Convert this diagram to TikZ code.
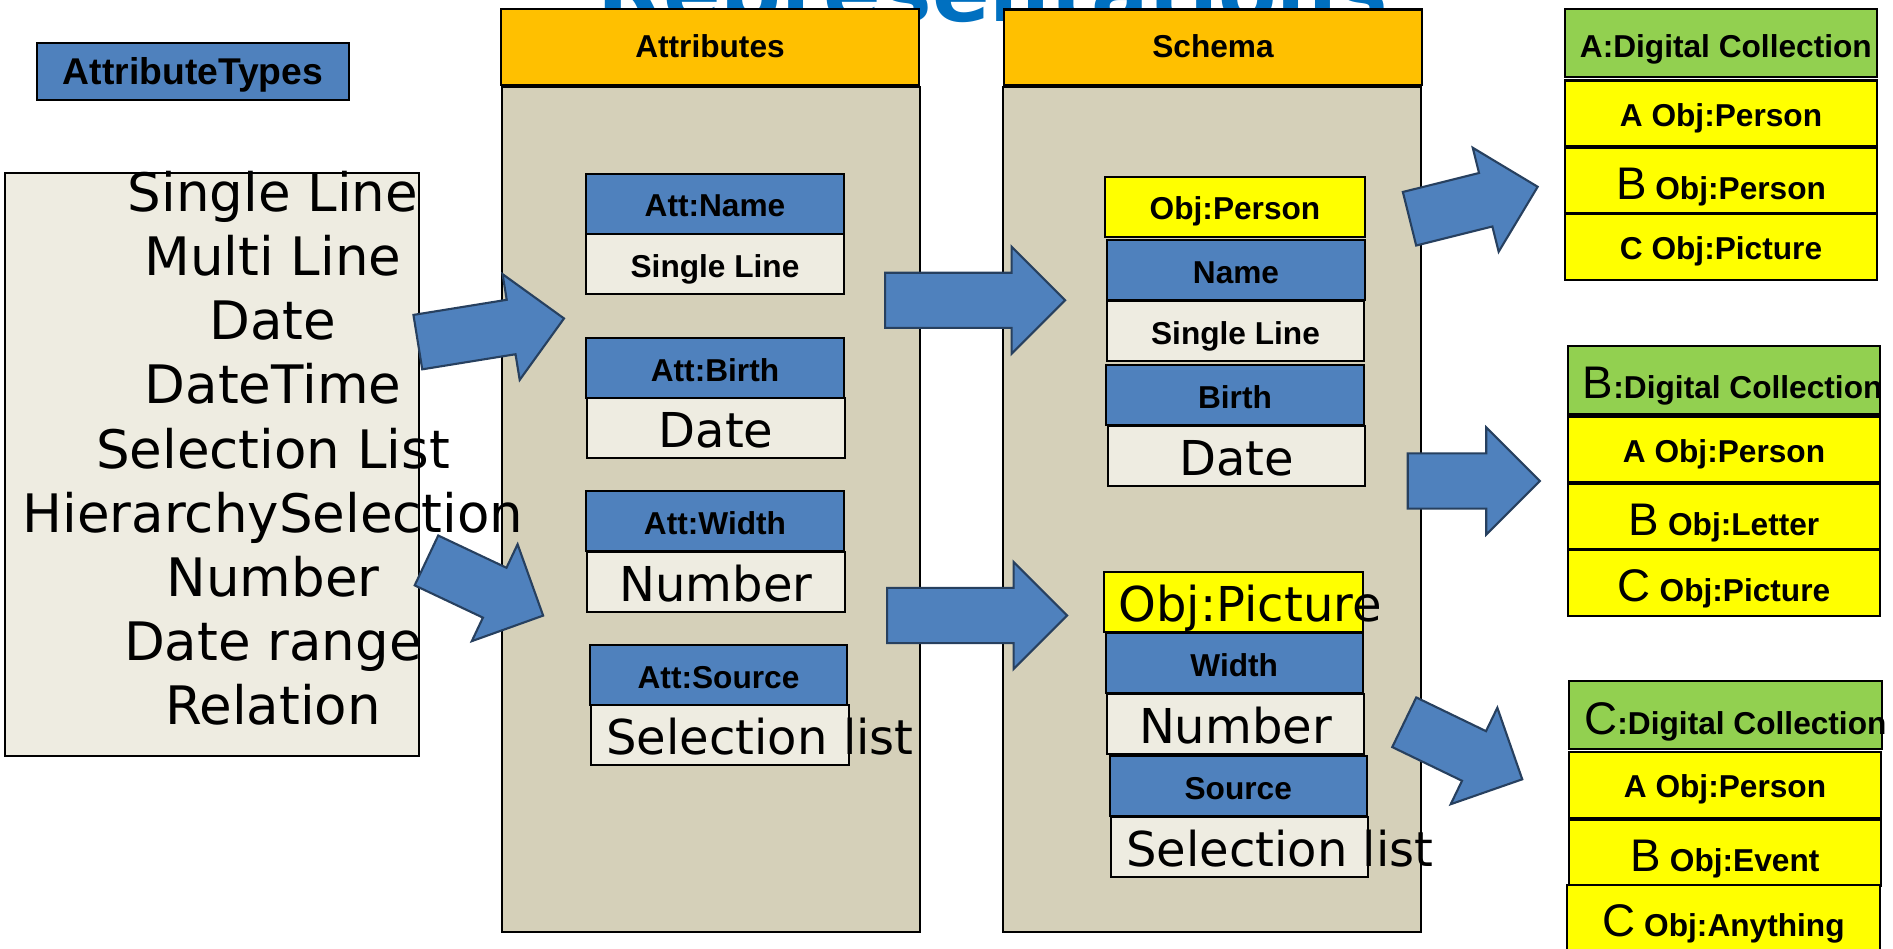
\documentclass[tikz,border=0pt]{standalone}
\usepackage{fontspec}
\usepackage{tikz}
\usetikzlibrary{shapes.arrows}
\setmainfont{DejaVu Sans}
\newfontfamily\arialfont{Liberation Sans}

\definecolor{boxblue}{HTML}{4F81BD}
\definecolor{headorange}{HTML}{FFC000}
\definecolor{bodytan}{HTML}{D5D0B9}
\definecolor{paper}{HTML}{EEECE1}
\definecolor{objyellow}{HTML}{FFFF00}
\definecolor{collgreen}{HTML}{92D050}
\definecolor{titleblue}{HTML}{0070C0}
\definecolor{arrowline}{HTML}{27405F}

\newcommand\cellfont{\arialfont\bfseries\fontsize{9.0}{10.5}\selectfont}
\newcommand\headfont{\arialfont\bfseries\fontsize{10.6}{12}\selectfont}
\newcommand\valfont{\fontsize{13.66}{16}\selectfont}
\newcommand\listfont{\fontsize{15.08}{18.24}\selectfont}
\newcommand\bigletter{\arialfont\mdseries\fontsize{13}{15}\selectfont}
\newcommand\titlefont{\bfseries\fontsize{24.2}{29}\selectfont}

\tikzset{
  cell/.style={draw=black, line width=0.6pt, inner sep=0pt, outer sep=0pt,
    text height=0.26cm, text depth=0pt, minimum width=2.57cm, minimum height=0.60cm},
  attcell/.style={cell, fill=boxblue, font=\cellfont},
  smallval/.style={cell, fill=paper, font=\cellfont},
  valcell/.style={cell, fill=paper, font=\valfont, text height=0.39cm},
  objcell/.style={cell, fill=objyellow, font=\cellfont},
  column/.style={draw=black, line width=0.6pt, fill=bodytan, inner sep=0pt,
    minimum width=4.18cm, minimum height=8.45cm},
  colhead/.style={draw=black, line width=0.6pt, fill=headorange, inner sep=0pt,
    minimum width=4.18cm, minimum height=0.755cm, font=\cellfont,
    text height=0.2cm, text depth=0pt},
  collhead/.style={cell, fill=collgreen, font=\cellfont, minimum width=3.12cm,
    minimum height=0.68cm, inner xsep=0.15cm, text height=0.38cm},
  collrow/.style={cell, fill=objyellow, font=\cellfont, minimum width=3.12cm,
    minimum height=0.66cm},
  blockarrow/.style={single arrow, draw=arrowline, fill=boxblue, line width=0.6pt,
    inner xsep=0pt, inner ysep=0.265cm, single arrow head extend=0.26cm,
    single arrow tip angle=90, anchor=tail}
}

\begin{document}
\begin{tikzpicture}[x=0.01cm, y=-0.01cm]
  \useasboundingbox (0,0) rectangle (1893,949);
  \clip (0,0) rectangle (1893,949);

  % title, mostly hidden behind the headers
  \node[anchor=base, font=\titlefont, text=titleblue, inner sep=0pt] (title) at (993,22) {Representations};

  % columns
  \node[column] (attrbody) at (711,509.5) {};
  \node[colhead] (attrhead) at (710,47.2) {Attributes};
  \node[column] (schemabody) at (1212,509.5) {};
  \node[colhead] (schemahead) at (1213,47.3) {Schema};

  % attribute types
  \node[draw=black, line width=0.6pt, fill=boxblue, inner sep=0pt, minimum width=3.126cm,
    minimum height=0.573cm, font=\headfont, text height=0.27cm, text depth=0pt]
    (typeshead) at (193,71.4) {AttributeTypes};
  \node[draw=black, line width=0.6pt, fill=paper, inner sep=0pt, minimum width=4.13cm,
    minimum height=5.83cm] (typesbox) at (212,464.7) {};
  \foreach \t [count=\i from 0] in {Single Line, Multi Line, Date, DateTime, Selection List,
      HierarchySelection, Number, Date range, Relation}
    \node[anchor=base, font=\listfont, inner sep=0pt] (type\i) at (273,{211.7+64.1*\i}) {\t};

  % attributes
  \node[attcell] (attname) at (715,203.8) {Att:Name};
  \node[smallval] (attnameval) at (715,264) {Single Line};
  \node[attcell] (attbirth) at (715,368) {Att:Birth};
  \node[valcell] (attbirthval) at (716,428) {Date};
  \node[attcell] (attwidth) at (715,521.4) {Att:Width};
  \node[valcell] (attwidthval) at (716,582) {Number};
  \node[attcell] (attsource) at (718.5,675) {Att:Source};
  \node[valcell, inner xsep=0.15cm] (attsourceval) at (720,735.3) {\makebox[2.27cm][l]{Selection list}};

  % schema
  \node[objcell, minimum width=2.59cm] (objperson) at (1235,206.7) {Obj:Person};
  \node[attcell] (name) at (1236,270.3) {Name};
  \node[smallval] (nameval) at (1235.5,331) {Single Line};
  \node[attcell] (birth) at (1235,395) {Birth};
  \node[valcell] (birthval) at (1236.8,455.7) {Date};
  \node[objcell, font=\valfont, text height=0.39cm, minimum width=2.59cm, inner xsep=0.15cm]
    (objpicture) at (1233.2,602) {\makebox[2.29cm][l]{Obj:Picture}};
  \node[attcell] (width) at (1234.2,663) {Width};
  \node[valcell] (widthval) at (1235.5,724) {Number};
  \node[attcell] (source) at (1238.2,786.4) {Source};
  \node[valcell, inner xsep=0.15cm] (sourceval) at (1239.7,847.4) {\makebox[2.27cm][l]{Selection list}};

  % digital collections
  \node[collhead, text height=0.29cm] (colla) at (1721,43) {\makebox[2.82cm][l]{A:Digital Collection}};
  \node[collrow] (colla1) at (1721,113.5) {A Obj:Person};
  \node[collrow, text height=0.37cm] (colla2) at (1721,180.5) {{\bigletter B} Obj:Person};
  \node[collrow] (colla3) at (1721,246.7) {C Obj:Picture};

  \node[collhead] (collb) at (1724,379.7) {\makebox[2.82cm][l]{{\bigletter B}:Digital Collection}};
  \node[collrow] (collb1) at (1724,449.5) {A Obj:Person};
  \node[collrow, text height=0.37cm] (collb2) at (1724,516.5) {{\bigletter B} Obj:Letter};
  \node[collrow, text height=0.37cm] (collb3) at (1724,583) {{\bigletter C} Obj:Picture};

  \node[collhead] (collc) at (1725.5,715) {\makebox[2.82cm][l]{{\bigletter C}:Digital Collection}};
  \node[collrow] (collc1) at (1725,784.7) {A Obj:Person};
  \node[collrow, text height=0.37cm] (collc2) at (1725,852.5) {{\bigletter B} Obj:Event};
  \node[collrow, text height=0.37cm] (collc3) at (1723.5,918) {{\bigletter C} Obj:Anything};

  % block arrows
  \node[blockarrow, minimum height=1.48cm, rotate=9.2] (arrtypesa) at (416.8,342.3) {};
  \node[blockarrow, minimum height=1.29cm, rotate=-25.3] (arrtypesb) at (425.5,560) {};
  \node[blockarrow, minimum height=1.80cm] (arrperson) at (884,300.3) {};
  \node[blockarrow, minimum height=1.80cm] (arrpicture) at (886,615.5) {};
  \node[blockarrow, minimum height=1.32cm, rotate=14] (arrcolla) at (1408.5,219) {};
  \node[blockarrow, minimum height=1.32cm] (arrcollb) at (1406.7,481) {};
  \node[blockarrow, minimum height=1.31cm, rotate=-25.8] (arrcollc) at (1403.3,721.8) {};
\end{tikzpicture}
\end{document}
